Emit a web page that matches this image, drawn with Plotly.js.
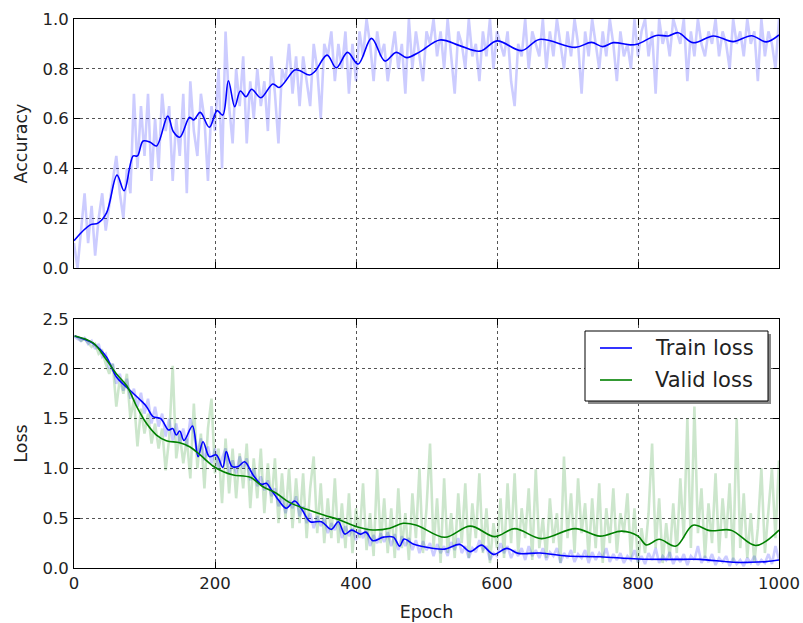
<!DOCTYPE html>
<html>
<head>
<meta charset="utf-8">
<script src="https://cdn.plot.ly/plotly-3.0.1.min.js"></script>
<style>html,body{margin:0;padding:0;background:#fff;}#chart{width:803px;height:623px;}</style>
</head>
<body>
<div id="chart"></div>
<script>
// ---- raw accuracy (every 5 epochs) ----
const accRaw = [
0.10,0.00,0.15,0.30,0.10,0.25,0.05,0.20,0.30,0.15,
0.25,0.35,0.45,0.30,0.20,0.40,0.30,0.70,0.40,0.65,
0.45,0.70,0.35,0.60,0.40,0.70,0.55,0.65,0.35,0.60,
0.45,0.70,0.30,0.75,0.55,0.45,0.70,0.60,0.35,0.65,
0.55,0.80,0.40,0.95,0.65,0.50,0.80,0.65,0.85,0.50,
0.75,0.60,0.80,0.65,0.75,0.55,0.85,0.70,0.50,0.80,
0.75,0.90,0.70,0.85,0.65,0.85,0.75,0.65,0.90,0.80,
0.60,0.90,0.85,0.95,0.75,0.90,0.80,0.95,0.70,0.90,
0.75,0.95,0.85,1.00,0.90,0.75,0.95,0.85,0.90,0.75,
0.85,0.95,0.80,0.90,0.70,1.00,0.80,0.95,0.85,0.75,
0.95,0.90,1.00,0.85,0.95,0.80,1.00,0.85,0.70,0.95,
0.90,0.80,1.00,0.85,0.90,0.75,0.95,0.85,1.00,0.80,
0.95,0.90,0.85,0.95,0.75,0.65,0.90,0.85,1.00,0.80,
0.95,0.90,0.85,1.00,0.80,0.95,0.85,1.00,0.90,0.80,
0.95,0.85,1.00,0.90,0.70,0.95,0.85,1.00,0.90,0.80,
0.95,0.85,1.00,0.90,0.75,0.95,0.85,0.90,0.80,1.00,
0.85,0.95,1.00,0.85,0.95,0.70,1.00,0.90,0.95,0.85,
1.00,0.95,0.90,1.00,0.75,0.95,0.85,1.00,0.90,0.85,
0.95,0.90,1.00,0.85,0.95,0.90,0.80,1.00,0.90,0.95,
0.85,1.00,0.90,0.95,0.75,1.00,0.85,0.95,0.90,0.80,
1.00
];
// ---- smoothed accuracy ----
const accSmoothEpoch = [0,23,34,46,61,71,84,90,98,108,117,133,141,150,164,170,179,192,203,211,219,228,236,244,252,265,282,291,313,320,334,342,359,372,388,403,422,441,457,472,491,519,547,576,600,635,660,711,734,750,765,789,800,826,843,857,878,907,935,961,982,1000];
const accSmooth = [0.11,0.173,0.18,0.22,0.373,0.31,0.45,0.45,0.51,0.505,0.49,0.61,0.547,0.525,0.605,0.595,0.625,0.565,0.632,0.614,0.752,0.648,0.711,0.688,0.718,0.684,0.739,0.725,0.795,0.793,0.775,0.79,0.855,0.804,0.866,0.819,0.922,0.831,0.866,0.845,0.869,0.916,0.893,0.871,0.912,0.873,0.918,0.886,0.906,0.889,0.905,0.896,0.9,0.934,0.932,0.945,0.905,0.932,0.909,0.933,0.908,0.936];

// ---- raw train loss (every 5 epochs) ----
const trainRaw = [
2.33,2.30,2.28,2.31,2.25,2.28,2.20,2.25,2.12,2.15,
2.00,2.05,1.85,1.95,1.78,1.90,1.70,1.80,1.62,1.76,
1.55,1.70,1.45,1.62,1.42,1.55,1.32,1.50,1.28,1.45,
1.25,1.40,1.22,1.50,1.35,1.15,1.30,1.08,1.22,1.05,
1.20,1.00,1.10,1.20,0.95,1.08,0.95,1.12,1.00,1.10,
0.88,1.00,0.82,0.92,0.78,0.88,0.72,0.80,0.62,0.72,
0.55,0.68,0.60,0.72,0.52,0.62,0.45,0.55,0.40,0.52,
0.42,0.50,0.35,0.45,0.38,0.50,0.30,0.42,0.32,0.40,
0.28,0.38,0.30,0.40,0.22,0.33,0.25,0.35,0.26,0.36,
0.22,0.34,0.18,0.32,0.22,0.30,0.18,0.28,0.15,0.27,
0.18,0.25,0.12,0.24,0.15,0.22,0.12,0.26,0.18,0.30,
0.15,0.22,0.10,0.20,0.16,0.28,0.18,0.22,0.08,0.15,
0.12,0.25,0.15,0.22,0.10,0.18,0.12,0.20,0.08,0.22,
0.12,0.18,0.10,0.20,0.08,0.16,0.12,0.20,0.05,0.15,
0.10,0.18,0.06,0.14,0.10,0.18,0.05,0.16,0.08,0.15,
0.10,0.20,0.06,0.14,0.08,0.15,0.05,0.12,0.08,0.18,
0.06,0.12,0.04,0.15,0.08,0.20,0.05,0.12,0.08,0.16,
0.04,0.12,0.06,0.14,0.03,0.12,0.08,0.22,0.05,0.12,
0.06,0.14,0.03,0.10,0.06,0.12,0.02,0.10,0.04,0.08,
0.02,0.10,0.05,0.12,0.03,0.08,0.05,0.14,0.04,0.22,
0.08
];
// ---- raw valid loss (every 5 epochs) ----
const validRaw = [
2.33,2.32,2.28,2.30,2.26,2.22,2.25,2.15,2.18,2.05,
1.95,2.05,1.62,1.90,1.75,1.95,1.50,1.70,1.22,1.60,
1.35,1.55,1.25,1.45,1.20,1.40,0.98,1.30,2.03,1.10,
1.35,1.05,1.30,0.90,1.65,1.00,1.35,0.80,1.40,1.70,
0.95,1.20,0.65,1.30,0.75,1.20,0.70,1.15,0.80,1.25,
0.60,1.10,0.70,1.20,0.55,1.05,0.65,1.10,0.45,0.95,
0.50,1.00,0.40,0.90,0.45,0.95,0.30,0.80,1.12,0.35,
0.85,0.25,0.70,0.30,0.90,0.25,0.65,0.20,0.75,0.15,
0.60,0.30,0.85,0.18,0.55,0.12,0.99,0.25,0.70,0.15,
0.60,0.10,0.80,0.20,0.55,0.08,0.75,0.30,1.00,0.15,
0.60,1.25,0.20,0.70,0.05,0.90,0.15,0.55,0.10,0.75,
0.25,0.85,0.10,0.65,0.30,0.95,0.15,0.60,0.05,0.45,
0.20,0.70,0.10,0.85,0.25,0.95,0.15,0.60,0.30,0.80,
0.08,0.99,0.20,0.50,0.10,0.70,0.25,0.55,0.05,1.12,
0.30,0.75,0.15,0.90,0.35,0.65,0.10,0.70,0.20,0.85,
0.05,0.60,0.25,0.80,0.15,0.55,0.35,0.75,0.10,0.60,
0.05,0.40,0.15,0.55,1.25,0.20,0.70,0.05,0.45,0.10,
0.65,0.15,0.90,0.30,1.50,0.20,1.62,0.35,0.80,0.10,
0.65,0.25,0.95,0.15,0.70,0.30,0.85,0.05,1.50,0.20,
0.75,0.10,0.55,0.05,0.40,1.00,0.15,0.60,1.00,0.30,
1.08
];
// ---- smoothed losses ----
const trainSmoothEpoch = [1,27,46,60,79,94,103,112,123,134,140,145,150,156,168,176,183,192,202,211,216,224,233,242,254,266,273,280,290,301,313,323,335,351,365,375,384,394,406,414,424,439,453,462,468,481,491,526,547,562,578,595,614,630,661,699,746,800,864,888,935,959,982,1000];
const trainSmooth = [2.33,2.256,2.12,1.92,1.787,1.687,1.62,1.52,1.5,1.386,1.40,1.335,1.375,1.28,1.426,1.118,1.268,1.118,1.135,1.01,1.168,1.02,1.02,1.067,0.934,0.84,0.85,0.783,0.683,0.6,0.673,0.59,0.465,0.465,0.388,0.465,0.341,0.38,0.34,0.36,0.274,0.31,0.31,0.22,0.29,0.24,0.22,0.19,0.237,0.164,0.23,0.137,0.197,0.147,0.15,0.12,0.113,0.09,0.087,0.087,0.057,0.057,0.064,0.08];
const validSmoothEpoch = [1,27,46,60,75,89,103,117,131,150,164,179,197,212,226,250,268,287,306,330,354,377,401,424,448,467,486,526,562,597,625,663,711,746,777,800,812,830,854,878,902,932,967,1000];
const validSmooth = [2.33,2.26,2.09,1.95,1.827,1.62,1.45,1.335,1.278,1.258,1.218,1.135,1.024,0.967,0.934,0.91,0.816,0.75,0.656,0.59,0.532,0.482,0.415,0.382,0.4,0.449,0.43,0.308,0.42,0.315,0.395,0.295,0.395,0.32,0.37,0.32,0.231,0.288,0.22,0.43,0.375,0.38,0.226,0.38];
const legendNames = ['Train loss', 'Valid loss'];

const rawEpoch = accRaw.map((_, i) => i * 5);

const FONT = 'DejaVu Sans, sans-serif';
const BLUE = '#0000ff', GREEN = '#008000';
const RAWW = 2.6;
const traces = [
  {x: rawEpoch, y: accRaw, xaxis: 'x', yaxis: 'y', type: 'scatter', mode: 'lines',
   line: {color: 'rgba(0,0,255,0.2)', width: RAWW}, showlegend: false, hoverinfo: 'skip'},
  {x: accSmoothEpoch, y: accSmooth, xaxis: 'x', yaxis: 'y', type: 'scatter', mode: 'lines',
   line: {color: BLUE, width: 1.6, shape: 'spline', smoothing: 1}, showlegend: false},
  {x: rawEpoch, y: trainRaw, xaxis: 'x2', yaxis: 'y2', type: 'scatter', mode: 'lines',
   line: {color: 'rgba(0,0,255,0.2)', width: RAWW}, showlegend: false, hoverinfo: 'skip'},
  {x: rawEpoch, y: validRaw, xaxis: 'x2', yaxis: 'y2', type: 'scatter', mode: 'lines',
   line: {color: 'rgba(0,128,0,0.2)', width: RAWW}, showlegend: false, hoverinfo: 'skip'},
  {x: trainSmoothEpoch, y: trainSmooth, xaxis: 'x2', yaxis: 'y2', type: 'scatter', mode: 'lines',
   name: legendNames[0], showlegend: false,
   line: {color: BLUE, width: 1.6, shape: 'spline', smoothing: 1}},
  {x: validSmoothEpoch, y: validSmooth, xaxis: 'x2', yaxis: 'y2', type: 'scatter', mode: 'lines',
   name: legendNames[1], showlegend: false,
   line: {color: GREEN, width: 1.6, shape: 'spline', smoothing: 1}}
];

const axBase = {
  showline: true, linecolor: '#000', linewidth: 1, mirror: 'ticks',
  ticks: 'inside', ticklen: 6, tickcolor: '#000', tickwidth: 1,
  showgrid: true, gridcolor: '#555', griddash: 'dot', gridwidth: 1,
  zeroline: false, tickfont: {family: FONT, size: 16.5, color: '#222'}
};

// legend box geometry (pixels -> paper)
const PX = px => (px - 74) / 705;
const PY = py => (568 - py) / 549;
const legShapes = [
  {type: 'rect', xref: 'paper', yref: 'paper', layer: 'above',
   x0: PX(588), x1: PX(771), y0: PY(404), y1: PY(334), fillcolor: '#8a8a8a', line: {width: 0}},
  {type: 'rect', xref: 'paper', yref: 'paper', layer: 'above',
   x0: PX(585), x1: PX(768), y0: PY(401), y1: PY(331), fillcolor: '#fff', line: {color: '#000', width: 1}},
  {type: 'line', xref: 'paper', yref: 'paper', layer: 'above',
   x0: PX(600), x1: PX(632), y0: PY(348), y1: PY(348), line: {color: BLUE, width: 1.6}},
  {type: 'line', xref: 'paper', yref: 'paper', layer: 'above',
   x0: PX(600), x1: PX(632), y0: PY(380), y1: PY(380), line: {color: GREEN, width: 1.6}}
];
const legAnn = legendNames.map((n, i) => ({
  xref: 'paper', yref: 'paper', x: PX(653), y: PY(i === 0 ? 348 : 380),
  xanchor: 'left', yanchor: 'middle', showarrow: false, text: n,
  font: {family: FONT, size: 21, color: '#222'}
}));

const layout = {
  width: 803, height: 623,
  margin: {l: 74, r: 24, t: 19, b: 55},
  paper_bgcolor: '#fff', plot_bgcolor: '#fff',
  font: {family: FONT, color: '#222'},
  showlegend: false,
  xaxis: Object.assign({}, axBase, {domain: [0, 1], anchor: 'y', range: [0, 1000], dtick: 200, showticklabels: false}),
  yaxis: Object.assign({}, axBase, {domain: [300/549, 1], anchor: 'x', range: [0, 1], dtick: 0.2, tickformat: '.1f',
    ticklabelstandoff: 1,
    title: {text: 'Accuracy', font: {family: FONT, size: 17.5, color: '#222'}, standoff: 10}}),
  xaxis2: Object.assign({}, axBase, {domain: [0, 1], anchor: 'y2', range: [0, 1000], dtick: 200,
    title: {text: 'Epoch', font: {family: FONT, size: 17.5, color: '#222'}, standoff: 13}}),
  yaxis2: Object.assign({}, axBase, {domain: [0, 249/549], anchor: 'x2', range: [0, 2.5], dtick: 0.5, tickformat: '.1f',
    ticklabelstandoff: 1,
    title: {text: 'Loss', font: {family: FONT, size: 17.5, color: '#222'}, standoff: 10}}),
  shapes: legShapes,
  annotations: legAnn
};

Plotly.newPlot('chart', traces, layout, {displayModeBar: false, staticPlot: true});
</script>
</body>
</html>
